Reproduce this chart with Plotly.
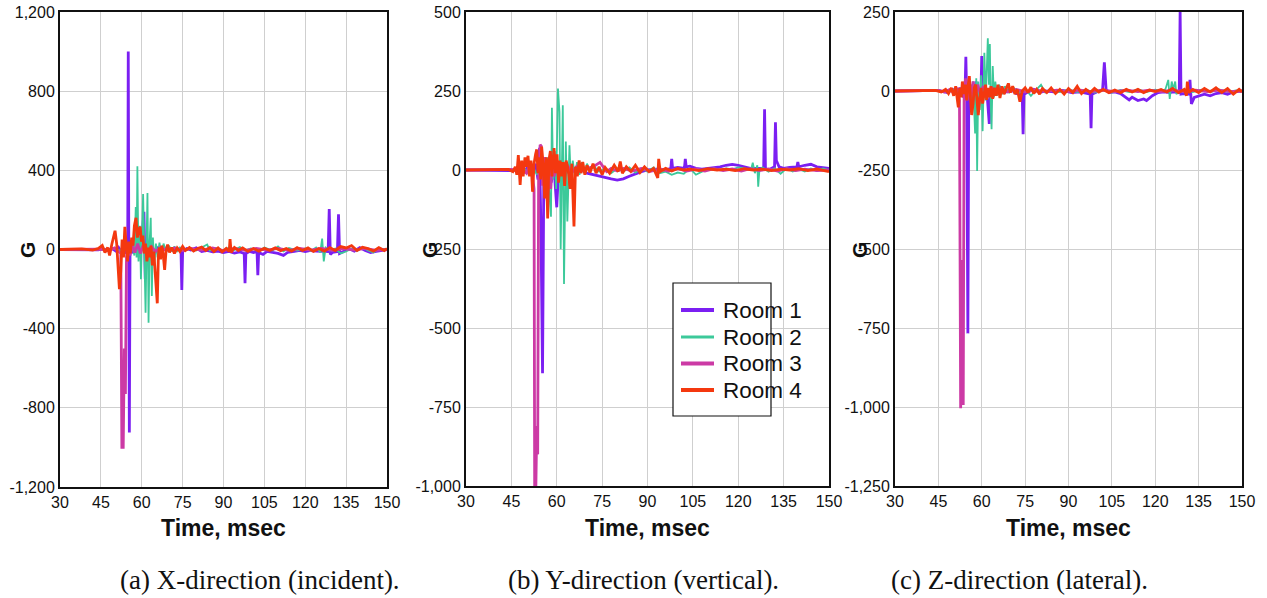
import plotly.graph_objects as go

W, H = 1267, 598
SANS = "Liberation Sans, Arial, sans-serif"
SERIF = "Liberation Serif, Times New Roman, serif"


def fx(px):
    return px / W


def fy(py):
    return 1 - py / H


ROOMS = ["Room 1", "Room 2", "Room 3", "Room 4"]
COLORS = ["#7b1ff2", "#3cc99a", "#cc3aa5", "#f4380f"]
WIDTHS = [2.8, 1.8, 2.8, 2.8]

X_TICKS = [30, 45, 60, 75, 90, 105, 120, 135, 150]

A_YTICKS = [-1200, -800, -400, 0, 400, 800, 1200]
A_YTEXT = ["-1,200", "-800", "-400", "0", "400", "800", "1,200"]
B_YTICKS = [-1000, -750, -500, -250, 0, 250, 500]
B_YTEXT = ["-1,000", "-750", "-500", "-250", "0", "250", "500"]
C_YTICKS = [-1250, -1000, -750, -500, -250, 0, 250]
C_YTEXT = ["-1,250", "-1,000", "-750", "-500", "-250", "0", "250"]

CAPTIONS = ["(a) X-direction (incident).", "(b) Y-direction (vertical).", "(c) Z-direction (lateral)."]

# ---------------- Panel (a) X-direction ----------------
A1_T = [30, 40, 44, 46, 47.5, 49, 50.5, 51.5, 52.5, 53.5, 54.3, 54.85, 55.05, 55.25, 55.45, 55.7, 56.3, 57, 58, 59, 60, 60.8, 61.3, 61.8, 62.5, 63.5, 64.5, 66, 67.5, 69, 71, 73, 74.4, 74.7, 75, 76.5, 78, 80, 82, 84, 86, 88, 90, 92, 94, 96, 97.6, 97.9, 98.2, 99.5, 101, 102.3, 102.6, 102.9, 104.5, 106, 108, 110, 112, 113.5, 116, 118, 120, 122, 124, 126, 128.4, 128.8, 129.2, 130, 131.8, 132.2, 132.6, 134, 136, 138, 140, 142, 144, 146, 148, 150]
A1_G = [0, 1, -2, 3, -5, 6, -8, 10, -12, 15, -20, 5, 1000, 0, -925, -10, 15, -20, 25, -15, 30, 190, -150, 20, -30, 15, -10, 10, -5, 8, -3, 5, -5, -205, -10, 5, -3, 8, -10, -5, -12, -8, -15, -10, -18, -12, -20, -170, -20, -10, -15, -10, -130, -15, -25, -10, -15, -20, -30, -15, -10, -5, -10, -5, -8, -10, -10, 204, -25, -15, -10, 178, -20, -10, 5, -8, 10, -5, -15, -10, -5, 0]

A2_T = [30, 45, 48, 50, 52, 54, 55.5, 56.5, 57.3, 57.8, 58.1, 58.4, 58.8, 59.3, 59.7, 60.1, 60.5, 61, 61.4, 61.8, 62.1, 62.5, 62.9, 63.3, 63.7, 64.1, 64.6, 65.2, 65.8, 66.5, 67.2, 68, 69, 70, 71, 72, 73, 74, 76, 78, 80, 82, 84, 85, 87, 90, 92, 94, 96, 98, 100, 103, 105, 108, 110, 112, 114, 117, 120, 122, 124, 125.5, 126.2, 126.8, 127.5, 129, 131, 133, 135, 137, 139, 141, 143, 145, 147, 150]
A2_G = [0, 2, -3, 4, -5, 8, -10, 20, -30, 215, -40, 420, -60, 120, -150, 90, 280, -50, -320, 60, 285, -370, 40, 160, -235, 60, -80, 30, -40, 35, -25, 30, -15, 20, -10, 15, -8, 10, -5, 8, -5, 10, 25, -5, 8, -5, 10, -3, 12, -5, 5, -8, 10, -5, 15, -10, 8, -5, 5, -8, 10, -15, 55, -60, 10, -5, 5, -20, -10, 5, -8, 10, -5, -15, 5, 0]

A3_T = [30, 45, 48, 50, 51.5, 52.3, 52.7, 53.2, 53.6, 54.0, 54.4, 55, 55.7, 56.5, 57.5, 58.5, 59.5, 60.5, 62, 63.5, 65, 67, 69, 72, 75, 78, 82, 86, 90, 94, 98, 102, 106, 110, 114, 118, 122, 126, 130, 134, 138, 142, 146, 150]
A3_G = [0, 2, -5, 8, -10, -20, -1000, -1000, -500, -730, -40, 20, -30, 25, -15, 30, -20, 20, -15, 15, -10, 10, -5, 8, -5, 5, -3, 8, -5, 6, -4, 5, -3, 6, -4, 5, -3, 6, -4, 5, -3, 6, -4, 0]

A4_T = [30, 38, 42, 44, 45.5, 46.5, 47.5, 48.2, 49, 49.7, 50.2, 50.8, 51.3, 51.8, 52.3, 52.8, 53.3, 53.8, 54.3, 54.8, 55.3, 55.8, 56.3, 56.8, 57.3, 57.9, 58.4, 58.9, 59.4, 59.9, 60.4, 60.9, 61.4, 61.9, 62.4, 62.9, 63.4, 63.9, 64.4, 64.9, 65.7, 66.1, 66.5, 66.9, 67.4, 67.9, 68.4, 68.9, 69.5, 70.2, 71, 72, 73, 74, 75, 76, 77.5, 79, 80.5, 82, 83.5, 85, 86.5, 88, 89.5, 91, 92.1, 92.4, 92.8, 94, 95.5, 97, 99, 101, 103, 105, 107, 109, 111, 113, 115, 117, 119, 121, 123, 125, 127, 129, 131, 133, 135, 137, 139, 141, 143, 145, 147, 149, 150]
A4_G = [0, 3, -3, 5, 20, -15, 10, -30, 25, 60, 95, 30, -60, -200, -110, 50, -40, 115, 20, -60, 40, -20, 60, 20, 120, 160, 60, 100, 115, 40, 70, -20, 30, -60, 10, -40, 20, -80, -10, -120, -272, -30, 10, -50, 20, -30, -103, -10, 25, -15, 10, -20, 8, -10, 15, -5, 10, -8, 5, 12, -5, 10, -10, 8, -12, 5, -10, 53, -15, 10, -5, 8, -10, 5, -8, 6, -5, 8, -6, 5, -8, 10, -5, 8, -10, 5, -8, 10, -5, 15, 8, 20, -5, 12, 5, -8, 10, -5, 5]

# ---------------- Panel (b) Y-direction ----------------
B1_T = [30, 45, 47, 49, 50.5, 52, 53, 53.8, 54.3, 54.8, 55.3, 55.7, 56.2, 56.8, 57.5, 58.2, 59, 59.6, 60, 60.5, 61.2, 62, 63, 64, 65, 66.5, 68, 70, 72, 74, 76, 78, 80, 82, 84, 86, 88, 90, 93, 96, 97.7, 98, 98.3, 100, 102.2, 102.5, 102.8, 104, 106, 108, 110, 112, 114, 116, 118, 120, 122, 124, 126, 128.4, 128.7, 129, 130, 132, 132.3, 132.6, 133.5, 135, 137, 139.4, 139.7, 140, 142, 144, 146, 148, 150]
B1_G = [0, -2, 5, -8, 10, -15, 20, -30, 70, -200, -643, -50, 40, -60, 30, -40, 20, -60, -118, -20, 30, -10, 15, -10, 5, -5, 5, -10, -15, -20, -25, -28, -32, -28, -20, -12, -5, 0, 3, 0, 5, 35, 5, 8, 5, 35, 10, 12, 5, 3, 5, 8, 10, 15, 18, 15, 10, 5, 5, 5, 192, 5, 0, 10, 151, 30, 10, 5, 8, 10, 25, 10, 15, 18, 10, 8, 5]

B2_T = [30, 45, 47, 49, 50.5, 52, 53.5, 55, 56, 57, 57.6, 58.1, 58.4, 58.8, 59.3, 59.8, 60.4, 60.9, 61.3, 61.7, 62.0, 62.4, 62.8, 63.0, 63.5, 63.9, 64.2, 64.7, 65.3, 66, 66.7, 67.5, 68.3, 69, 70, 71, 72, 74, 76, 78, 80, 82, 84, 86, 88, 90, 92, 94, 96, 98, 100, 102, 104, 106, 108, 110, 112, 114, 116, 118, 120, 122, 124.2, 124.8, 125.5, 126.3, 126.6, 127, 128, 130, 132, 134, 136, 138, 140, 142, 144, 146, 148, 150]
B2_G = [0, 2, -5, 8, -10, 12, -15, 20, -30, 40, -80, -148, 197, -30, 60, -60, 258, 185, -251, 40, 205, -361, 30, 90, -163, 20, 78, -40, 30, -20, 25, -15, 25, -10, 20, -5, 15, -5, 5, -10, 5, -5, 8, -8, 5, -5, 8, -10, -5, -15, -8, -12, 5, -15, -5, 0, 5, 0, 5, 2, 8, 5, 0, 23, -10, 15, -53, 0, 8, -5, 5, -12, 5, -5, 3, -5, 5, -3, 5, 0]

B3_T = [30, 45, 47, 48.5, 50, 51, 52, 52.5, 52.7, 53.1, 53.4, 53.7, 54.0, 54.5, 54.9, 55.3, 55.8, 56.3, 56.9, 57.4, 58, 58.6, 59.2, 59.8, 60.5, 61.5, 62.5, 63.5, 65, 66.5, 68, 70, 72, 74.3, 75.5, 76.5, 78, 80, 82, 85, 88, 91, 94, 97, 100, 103, 106, 109, 112, 115, 118, 121, 124, 127, 130, 133, 136, 139, 142, 146, 150]
B3_G = [0, 2, -3, 5, -10, 15, -20, -60, -1000, -1000, -810, -900, -30, 80, 75, -50, 40, -30, -100, 20, -60, 30, -20, 25, -15, 20, -10, 15, -8, 10, -5, 5, 10, 24, 10, -5, 5, -3, 5, -3, 5, -4, 3, -3, 4, -3, 3, -3, 4, -2, 3, -3, 4, -2, 3, -3, 4, -2, 3, -2, 0]

B4_T = [30, 44, 45.5, 46.3, 46.8, 47.3, 47.9, 48.4, 48.9, 49.5, 50, 50.5, 51, 51.5, 52, 52.5, 53, 53.4, 53.8, 54.3, 54.7, 55, 55.5, 56, 56.5, 57, 57.4, 57.9, 58.4, 59.1, 59.6, 60.1, 60.6, 61.1, 61.6, 62.1, 62.6, 63.1, 63.8, 64.4, 65, 65.7, 66.2, 66.8, 67.4, 68, 68.6, 69.3, 70, 71, 72, 73, 74, 75, 76, 77.5, 79, 80.3, 81, 81.7, 83, 84.5, 86, 87.5, 89, 90.5, 92, 93.4, 93.7, 94.2, 96, 98, 100, 102, 104, 107, 110, 113, 116, 119, 122, 125, 128, 131, 134, 137, 140, 143, 146, 150]
B4_G = [0, 2, -5, 10, -15, 47, -47, 30, -20, 40, 10, 45, -20, 30, -69, 20, 50, 65, -10, 40, -30, 74, 20, -90, 40, -153, 30, 60, -20, 69, -10, 50, -40, 30, -20, 25, -50, 30, 0, -60, 20, -179, 10, -20, 30, -10, 25, -15, 15, -8, 20, -10, 10, -15, 8, -10, 15, -5, 27, -10, 10, -5, 15, -8, 10, -5, 5, -25, 35, -5, 5, -3, 5, 0, 3, -2, 4, 0, 3, -2, 4, 0, 3, -2, 3, 0, 4, -2, 3, -5]

# ---------------- Panel (c) Z-direction ----------------
C1_T = [30, 45, 48, 50, 51.5, 52.5, 53.5, 54.2, 54.5, 54.8, 55.2, 55.5, 56.2, 57, 58, 59, 59.7, 60, 60.3, 61, 62, 62.6, 63, 64, 65, 66.5, 68, 70, 72, 74, 74.3, 74.6, 76, 78, 80, 82, 85, 88, 91, 94, 97.5, 97.8, 98.1, 100, 101.8, 102.4, 103, 104, 106, 108, 110, 111, 112, 114, 116, 117, 119, 121, 123, 125, 126.5, 128.3, 128.6, 128.9, 130, 131.7, 132, 132.5, 133.5, 135, 137, 139, 141, 143, 145, 147, 150]
C1_G = [0, 2, -5, 5, -10, 10, -15, -10, 108, -20, -767, -30, 20, -40, 30, -20, -15, 111, -20, 30, -30, -104, -10, 15, -10, 10, -5, 5, -8, -10, -137, -10, -3, 5, -5, 0, -3, 2, -5, -3, -10, -118, -10, -3, 5, 91, 5, -5, -3, -8, -20, -28, -20, -30, -25, -30, -15, -5, -3, -5, -3, -5, 250, -10, -8, -10, 35, -41, -20, -15, -10, -15, -8, -5, -10, -3, 0]

C2_T = [30, 45, 48, 50, 52, 53.5, 54.5, 55.5, 56.3, 57, 57.7, 58.1, 58.4, 58.8, 59.3, 59.8, 60.3, 60.9, 61.4, 61.7, 62.1, 62.5, 62.8, 63.1, 63.4, 63.8, 64.2, 64.7, 65.3, 66, 67, 68, 69.5, 71, 73, 75, 77, 79, 80.5, 82, 84, 87, 90, 93, 96, 99, 102, 105, 108, 111, 114, 117, 120, 122, 123.5, 124.5, 125, 125.7, 126.2, 126.9, 127.3, 128.5, 130, 133, 136, 139, 142, 145, 148, 150]
C2_G = [0, 2, -3, 5, -8, 10, -15, 20, -30, 30, -134, 40, -253, 30, -60, 50, -127, 121, -30, 90, 167, 20, 149, -40, -121, 79, -20, 30, -15, 20, -10, 15, -5, 10, -5, 8, -15, 5, 20, -5, 5, -3, 5, -3, 4, -5, 3, -5, 3, -3, 5, -3, 4, 0, 5, 35, -25, 30, 5, 30, -10, 0, 5, -3, 4, -3, 5, -3, 2, 0]

C3_T = [30, 45, 47, 49, 50.5, 51.5, 52.3, 52.7, 53.0, 53.15, 53.6, 53.9, 54.4, 55, 55.6, 56.3, 57, 57.8, 58.6, 59.5, 60.5, 62, 63.5, 65, 67, 69, 72, 75, 78, 82, 86, 90, 94, 98, 102, 106, 110, 114, 118, 122, 126, 130, 134, 138, 142, 146, 150]
C3_G = [0, 2, -3, 5, -8, 10, -30, -1004, -900, -535, -994, -20, 40, -30, 25, -20, 30, -15, 20, -10, 15, -8, 10, -5, 8, -3, 5, -3, 4, -2, 3, -2, 3, -2, 3, -2, 3, -2, 3, -2, 3, -2, 3, -2, 3, -2, 0]

C4_T = [30, 44, 46, 47.5, 48.5, 49.5, 50.3, 51, 51.6, 51.9, 52.4, 52.9, 53.3, 53.8, 54.3, 54.8, 55.2, 55.7, 56.1, 56.5, 57, 57.4, 57.9, 58.4, 58.8, 59.3, 59.8, 60.3, 60.8, 61.3, 61.7, 62.2, 62.7, 63.2, 63.8, 64.4, 65, 65.6, 66.3, 67, 67.7, 68.5, 69.2, 69.9, 70.7, 71.5, 72.3, 73.2, 74, 75, 76, 77, 78, 79, 80, 81, 82.5, 84, 85.5, 87, 88.5, 90, 91.5, 93, 94.5, 96, 97.5, 99, 100.5, 102, 104, 106, 108, 110, 112, 114, 116, 118, 120, 122, 124, 126, 128, 130, 130.8, 131.1, 131.5, 133, 135, 137, 139, 141, 143, 145, 147, 149, 150]
C4_G = [0, 2, -3, 5, -8, 10, -15, 15, -30, -52, 10, -20, 30, -10, 20, -30, 10, 47, -20, -76, -40, 10, 20, -30, -76, -20, 10, -40, 0, 20, -28, 10, -20, 15, -25, 10, -15, 20, -22, 15, -10, 10, 24, -5, 15, -10, 5, -34, 0, 10, -5, 12, -8, 5, -10, 8, -5, 10, -8, 5, -10, 8, -5, 15, -8, 5, -5, 8, -3, 5, -5, 3, -5, 5, -3, 5, -5, 3, -2, 5, -3, 8, -5, 5, -15, 30, -5, 5, -5, 8, -3, 10, -5, 8, -10, 5, -3]

PANELS = [
    dict(series=[(A1_T, A1_G), (A2_T, A2_G), (A3_T, A3_G), (A4_T, A4_G)],
         yrange=[-1200, 1200], yticks=A_YTICKS, ytext=A_YTEXT, px=(60, 387), py=(12, 487),
         gx=28, cap_cx=260),
    dict(series=[(B1_T, B1_G), (B2_T, B2_G), (B3_T, B3_G), (B4_T, B4_G)],
         yrange=[-1000, 500], yticks=B_YTICKS, ytext=B_YTEXT, px=(466, 829), py=(12, 486),
         gx=430, cap_cx=643),
    dict(series=[(C1_T, C1_G), (C2_T, C2_G), (C3_T, C3_G), (C4_T, C4_G)],
         yrange=[-1250, 250], yticks=C_YTICKS, ytext=C_YTEXT, px=(895, 1242), py=(12, 486),
         gx=860, cap_cx=1019),
]

# legend box geometry (pixels) for panel (b)
LEG_BOX = (673, 283, 771, 416)
LEG_ROWS = [310, 337, 363.5, 390]
LEG_LW = [4, 3, 4, 4]

fig = go.Figure()
annotations = []
shapes = []
for i, p in enumerate(PANELS):
    sfx = "" if i == 0 else str(i + 1)
    for k, (t, g) in enumerate(p["series"]):
        fig.add_trace(go.Scatter(
            x=t, y=g, mode="lines", name=ROOMS[k],
            line=dict(color=COLORS[k], width=WIDTHS[k]),
            xaxis="x" + sfx, yaxis="y" + sfx,
            showlegend=False,
        ))
    x0, x1 = p["px"]
    y0, y1 = p["py"]
    axis_common = dict(
        showgrid=True, gridcolor="#cfcfcf", gridwidth=1, zeroline=False,
        showline=True, linecolor="#111", linewidth=2, mirror=True, ticks="",
        tickfont=dict(family=SANS, size=16, color="#111"),
        fixedrange=True, automargin=False, ticklabeloverflow="allow",
    )
    fig.layout["xaxis" + sfx] = dict(
        domain=[fx(x0), fx(x1)], range=[30, 150], tickvals=X_TICKS, ticktext=[str(v) for v in X_TICKS],
        anchor="y" + sfx, **axis_common)
    fig.layout["yaxis" + sfx] = dict(
        domain=[fy(y1), fy(y0)], range=p["yrange"], tickvals=p["yticks"], ticktext=p["ytext"],
        anchor="x" + sfx, **axis_common)
    cx = (x0 + x1) / 2
    annotations.append(dict(text="<b>Time, msec</b>", x=fx(cx), y=fy(528), xref="paper", yref="paper",
                            showarrow=False, font=dict(family=SANS, size=23, color="#111"),
                            xanchor="center", yanchor="middle"))
    annotations.append(dict(text="<b>G</b>", x=fx(p["gx"]), y=fy(250), xref="paper", yref="paper",
                            showarrow=False, textangle=-90, font=dict(family=SANS, size=21, color="#111"),
                            xanchor="center", yanchor="middle"))
    annotations.append(dict(text=CAPTIONS[i], x=fx(p["cap_cx"]), y=fy(580), xref="paper", yref="paper",
                            showarrow=False, font=dict(family=SERIF, size=27, color="#111"),
                            xanchor="center", yanchor="middle"))

# legend drawn as a boxed key inside panel (b)
bx0, by0, bx1, by1 = LEG_BOX
shapes.append(dict(type="rect", xref="paper", yref="paper",
                   x0=fx(bx0), x1=fx(bx1), y0=fy(by1), y1=fy(by0),
                   line=dict(color="#111", width=1.2), fillcolor="white", layer="above"))
for k, ry in enumerate(LEG_ROWS):
    shapes.append(dict(type="line", xref="paper", yref="paper",
                       x0=fx(681), x1=fx(714), y0=fy(ry), y1=fy(ry),
                       line=dict(color=COLORS[k], width=LEG_LW[k]), layer="above"))
    annotations.append(dict(text=ROOMS[k], x=fx(721), y=fy(ry), xref="paper", yref="paper",
                            showarrow=False, font=dict(family=SANS, size=22.5, color="#111"),
                            xanchor="left", yanchor="middle"))

fig.update_layout(
    width=W, height=H, margin=dict(l=0, r=0, t=0, b=0, autoexpand=False),
    paper_bgcolor="white", plot_bgcolor="white",
    annotations=annotations, shapes=shapes,
    showlegend=False,
)

# remove the default page margin so the figure fills the window exactly
fig.write_html("out.html", config={"displayModeBar": False},
               post_script="document.body.style.margin='0px';document.body.style.overflow='hidden';")
